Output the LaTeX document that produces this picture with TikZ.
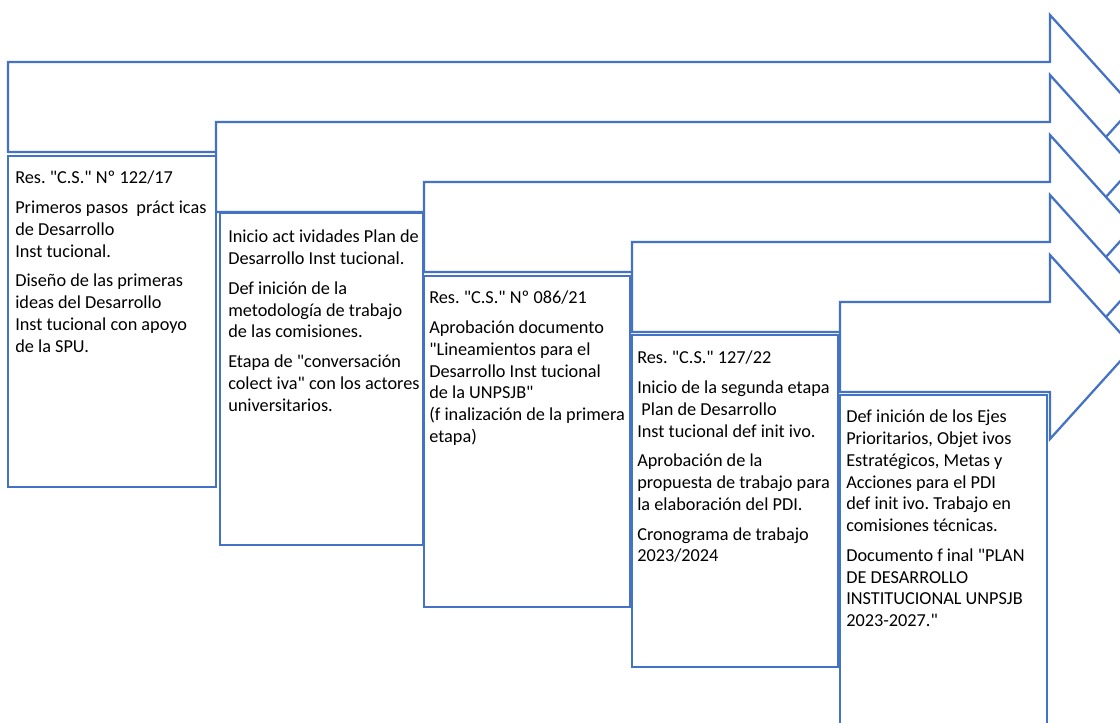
\documentclass[tikz,border=0pt]{standalone}
\usepackage{fontspec}
\setmainfont{Carlito}[Ligatures=TeXOff]
\definecolor{stageblue}{HTML}{4472C4}
\frenchspacing

\begin{document}
\begin{tikzpicture}[x=0.75pt,y=-0.75pt,
	arrowband/.style={draw=stageblue, line width=1.7pt, fill=white, line join=miter},
	stagebox/.style={draw=stageblue, line width=1.7pt, fill=white},
	stagetext/.style={anchor=north west, inner sep=0pt, align=left, font=\fontsize{13.7}{16.3}\selectfont}]
	
	\useasboundingbox (0,0) rectangle (1120,723);
	\clip (0,0) rectangle (1120,723);
	
	% arrows
	\draw [arrowband] (8,62) -- (1050,62) -- (1050,15) -- (1133,107) -- (1050,199) -- (1050,152) -- (8,152) -- cycle;
	
	\draw [arrowband] (216,122) -- (1050,122) -- (1050,75) -- (1133,167) -- (1050,259) -- (1050,212) -- (216,212) -- cycle;
	
	\draw [arrowband] (424,182) -- (1050,182) -- (1050,135) -- (1133,227) -- (1050,319) -- (1050,272) -- (424,272) -- cycle;
	
	\draw [arrowband] (632,242) -- (1050,242) -- (1050,195) -- (1133,287) -- (1050,379) -- (1050,332) -- (632,332) -- cycle;
	
	\draw [arrowband] (840,302) -- (1050,302) -- (1050,255) -- (1133,347) -- (1050,439) -- (1050,392) -- (840,392) -- cycle;
	
	% boxes
	\draw [stagebox] (8,156) rectangle (216,487);
	
	\draw [stagebox] (220,213) rectangle (423,545);
	
	\draw [stagebox] (424,276) rectangle (630,607);
	
	\draw [stagebox] (632,335) rectangle (838,667);
	
	\draw [stagebox] (840,395) rectangle (1047,740);
	
	% texts
	\node [stagetext] (res17) at (15,171) {Res. "C.S." Nº 122/17\\[6pt]
		Primeros pasos \ práct icas\\ de Desarrollo\\ Inst tucional.\\[6pt]
		Diseño de las primeras\\ ideas del Desarrollo\\ Inst tucional con apoyo\\ de la SPU.};
	
	\node [stagetext] (inicio) at (228,230) {Inicio act ividades Plan de\\ Desarrollo Inst tucional.\\[6pt]
		Def inición de la\\ metodología de trabajo\\ de las comisiones.\\[6pt]
		Etapa de "conversación\\ colect iva" con los actores\\ universitarios.};
	
	\node [stagetext] (res21) at (429,291) {Res. "C.S." Nº 086/21\\[6pt]
		Aprobación documento\\ "Lineamientos para el\\ Desarrollo Inst tucional\\ de la UNPSJB"\\ (f inalización de la primera\\ etapa)};
	
	\node [stagetext] (res22) at (637,351) {Res. "C.S." 127/22\\[6pt]
		Inicio de la segunda etapa\\ \ Plan de Desarrollo\\ Inst tucional def init ivo.\\[6pt]
		Aprobación de la\\ propuesta de trabajo para\\ la elaboración del PDI.\\[6pt]
		Cronograma de trabajo\\ 2023/2024};
	
	\node [stagetext] (ejes) at (846,410) {Def inición de los Ejes\\ Prioritarios, Objet ivos\\ Estratégicos, Metas y\\ Acciones para el PDI\\ def init ivo. Trabajo en\\ comisiones técnicas.\\[6pt]
		Documento f inal "PLAN\\ DE DESARROLLO\\ INSTITUCIONAL UNPSJB\\ 2023-2027."};
	
\end{tikzpicture}
\end{document}
